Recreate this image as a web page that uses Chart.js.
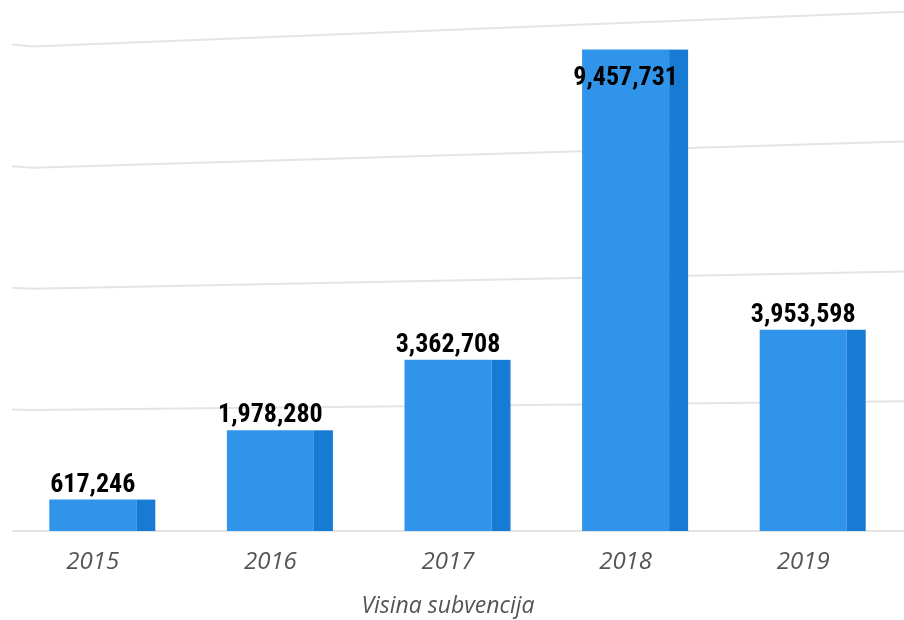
<!DOCTYPE html>
<html>
<head>
<meta charset="utf-8">
<script src="https://cdn.jsdelivr.net/npm/chart.js@4.4.1/dist/chart.umd.min.js"></script>
<style>
  html, body { margin: 0; padding: 0; background: #fff; }
  #Marco { width: 904px; height: 620px; }
</style>
</head>
<body>
<div id="Marco"><canvas id="GraficoSubvencija" width="904" height="620"></canvas></div>
<script>
const Godine  = ['2015', '2016', '2017', '2018', '2019'];
const Iznosi  = [617246, 1978280, 3362708, 9457731, 3953598];
const MaxY    = 10000000;
const KorakY  = 2500000;
const NaslovX = 'Visina subvencija';

const BojaPrednja = '#3094EB';
const BojaBocna   = '#177AD3';
const BojaMreza   = '#e4e4e4';
const BojaTekst   = '#555555';

const FormatBroj = V => V.toLocaleString('en-US');

// kose linije mreze (perspektiva), iz tickova y skale
const MrezaKosa = {
  id: 'MrezaKosa',
  beforeDatasetsDraw(Ch) {
    const { ctx, width } = Ch;
    const Y = Ch.scales.y;
    ctx.save();
    ctx.strokeStyle = BojaMreza;
    ctx.lineWidth = 2;
    Y.ticks.forEach(T => {
      const F = T.value / MaxY;
      const P = Y.getPixelForValue(T.value);
      const Nagib = 0.04 * F;
      const Lijevo = P + Nagib * (648 - 33);
      const Desno  = P + Nagib * (648 - width);
      ctx.beginPath();
      ctx.moveTo(12, Lijevo - 2 * F);
      ctx.lineTo(33, Lijevo);
      ctx.lineTo(width, Desno);
      ctx.stroke();
    });
    ctx.restore();
  }
};

// bocna strana stupca + vrijednosti
const BocneStrane = {
  id: 'BocneStrane',
  afterDatasetsDraw(Ch) {
    const { ctx, chartArea } = Ch;
    const Meta = Ch.getDatasetMeta(0);
    ctx.save();
    Meta.data.forEach((B, I) => {
      const Desno = B.x + B.width / 2;
      ctx.fillStyle = BojaBocna;
      ctx.fillRect(Desno, B.y, 19, B.base - B.y);

      ctx.font = 'bold 26px "Liberation Sans Narrow", "Roboto Condensed", Roboto, sans-serif';
      ctx.fillStyle = '#000';
      ctx.textAlign = 'center';
      ctx.textBaseline = 'alphabetic';
      const Tekst = FormatBroj(Iznosi[I]);
      if (B.y - 40 < chartArea.top) ctx.fillText(Tekst, B.x, B.y + 35);
      else ctx.fillText(Tekst, B.x, B.y - 8);
    });
    ctx.restore();
  }
};

new Chart(document.getElementById('GraficoSubvencija').getContext('2d'), {
  type: 'bar',
  data: {
    labels: Godine,
    datasets: [{
      data: Iznosi,
      backgroundColor: BojaPrednja,
      borderWidth: 0,
      barPercentage: 0.49,
      categoryPercentage: 1
    }]
  },
  options: {
    responsive: false,
    animation: false,
    devicePixelRatio: 1,
    layout: { padding: { top: 22, left: 4, right: 12, bottom: 0 } },
    plugins: { legend: { display: false }, tooltip: { enabled: false } },
    scales: {
      x: {
        grid: { display: false, drawTicks: false },
        border: { display: false },
        ticks: {
          color: BojaTekst,
          padding: 17,
          font: { family: '"Open Sans", "Noto Sans", sans-serif', size: 24, style: 'italic' }
        },
        title: {
          display: true,
          text: NaslovX,
          color: BojaTekst,
          padding: { top: 0, bottom: 0 },
          font: { family: '"Open Sans", "Noto Sans", sans-serif', size: 23, style: 'italic' }
        },
        afterFit(S) { S.height = 89; }
      },
      y: {
        display: false,
        min: 0,
        max: MaxY,
        ticks: { stepSize: KorakY }
      }
    }
  },
  plugins: [MrezaKosa, BocneStrane]
});
</script>
</body>
</html>
